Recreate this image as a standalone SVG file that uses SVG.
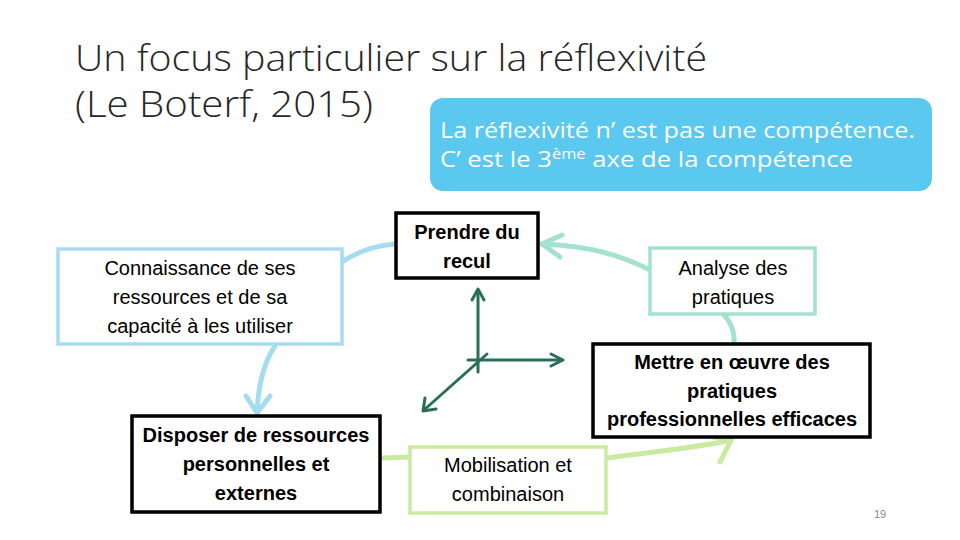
<svg xmlns="http://www.w3.org/2000/svg" width="960" height="540" viewBox="0 0 960 540">
<defs>
<style>
.title{font-family:"Open Sans","Liberation Sans",sans-serif;font-weight:300;font-size:36px;fill:#262626;}
.t{font-family:"Liberation Sans","DejaVu Sans",sans-serif;font-size:20px;fill:#000;text-anchor:middle;}
.b{font-weight:bold;}
.note{font-family:"Open Sans","Liberation Sans",sans-serif;font-size:22px;fill:#fff;}
.box{fill:#fff;stroke-width:3.5;}
.blk{stroke:#000;}
.lb{stroke:#a6dcf0;}
.mint{stroke:#a3e2d0;}
.lg{stroke:#c9eb9f;}
.c{fill:none;stroke-width:5;stroke-linecap:round;stroke-linejoin:round;}
.ax{fill:none;stroke:#2b6e57;stroke-width:3;stroke-linecap:round;stroke-linejoin:round;}
</style>
</defs>
<rect width="960" height="540" fill="#fff"/>
<text class="title" x="75" y="71" textLength="632" lengthAdjust="spacingAndGlyphs">Un focus particulier sur la réflexivité</text>
<text class="title" x="75" y="117" textLength="298" lengthAdjust="spacingAndGlyphs">(Le Boterf, 2015)</text>

<g id="note">
<rect x="430" y="98" width="502" height="93" rx="13" fill="#5bc8ef"/>
<text class="note" x="440" y="138" textLength="475" lengthAdjust="spacingAndGlyphs">La réflexivité n’ est pas une compétence.</text>
<text class="note" x="440" y="167" textLength="413" lengthAdjust="spacingAndGlyphs">C’ est le 3<tspan font-size="14" dy="-8">ème</tspan><tspan dy="8"> axe de la compétence</tspan></text>
</g>

<g id="connectors">
<path class="c lb" d="M342,262 C360,250 378,245 396,244"/>
<path class="c lb" d="M275,346 C262,365 258,390 257,413"/>
<path class="c lb" d="M246,396 L257,413 L270,396"/>
<path class="c mint" d="M650,270 C620,255 590,246 542,244"/>
<path class="c mint" d="M562,235 L542,244 L560,257"/>
<path class="c mint" d="M724,315 C731,322 735,333 734,343"/>
<path class="c lg" d="M382,458 L410,457"/>
<path class="c lg" d="M607,458 C650,452 690,449 731,440"/>
<path class="c lg" d="M713,437 L731,440 L720,462"/>
<g id="axes">
<path class="ax" d="M478,372 L478,290"/>
<path class="ax" d="M472,300 L478,289 L484,300"/>
<path class="ax" d="M468,360 L562,360"/>
<path class="ax" d="M551,354 L563,360 L551,366"/>
<path class="ax" d="M487,354 L424,410"/>
<path class="ax" d="M425,398 L423,411 L436,409"/>
</g>
</g>

<g id="n-connaissance">
<rect class="box lb" x="58" y="249" width="284" height="95"/>
<text class="t" x="200" y="275">Connaissance de ses</text>
<text class="t" x="200" y="304">ressources et de sa</text>
<text class="t" x="200" y="333">capacité à les utiliser</text>
</g>
<g id="n-prendre">
<rect class="box blk" x="396" y="213" width="142" height="65"/>
<text class="t b" x="467" y="239">Prendre du</text>
<text class="t b" x="467" y="268">recul</text>
</g>
<g id="n-analyse">
<rect class="box mint" x="650" y="248" width="165" height="66"/>
<text class="t" x="733" y="275">Analyse des</text>
<text class="t" x="733" y="304">pratiques</text>
</g>
<g id="n-mettre">
<rect class="box blk" x="593" y="344" width="277" height="93"/>
<text class="t b" x="732" y="369">Mettre en œuvre des</text>
<text class="t b" x="732" y="398">pratiques</text>
<text class="t b" x="732" y="426">professionnelles efficaces</text>
</g>
<g id="n-disposer">
<rect class="box blk" x="132" y="416" width="248" height="96"/>
<text class="t b" x="256" y="442">Disposer de ressources</text>
<text class="t b" x="256" y="471">personnelles et</text>
<text class="t b" x="256" y="500">externes</text>
</g>
<g id="n-mobilisation">
<rect class="box lg" x="410" y="447" width="196" height="66"/>
<text class="t" x="508" y="472">Mobilisation et</text>
<text class="t" x="508" y="501">combinaison</text>
</g>
<text x="880" y="518" font-family="Liberation Sans, sans-serif" font-size="11" fill="#8a8a8a" text-anchor="middle">19</text>
</svg>
